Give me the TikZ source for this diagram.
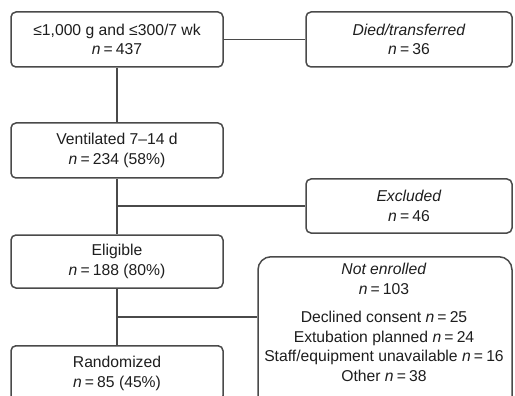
\documentclass[tikz,border=0pt]{standalone}
\usepackage{fontspec}
\setmainfont{Liberation Sans}
\definecolor{linec}{HTML}{4A4A4A}
\definecolor{textc}{HTML}{1E1E1E}
\newcommand{\nn}[1]{\textit{n}\hspace{0.2em}=\hspace{0.2em}#1}
\begin{document}
\begin{tikzpicture}[x=1pt,y=-1pt,
  every node/.style={font=\fontsize{15.7pt}{19.5pt}\selectfont, text=textc},
  flowbox/.style={draw=linec, line width=1.5pt, rounded corners=5pt, align=center,
    minimum height=55pt, inner sep=0pt},
  leftbox/.style={flowbox, minimum width=212pt},
  rightbox/.style={flowbox, minimum width=206pt},
  conn/.style={draw=linec, line width=1.5pt}]
\clip (0,0) rectangle (515,396);
\fill[white] (0,0) rectangle (515,396);

\node[leftbox] (b1) at (117,39.5) {≤1,000 g and ≤300/7 wk\\\nn{437}};
\node[rightbox] (died) at (409,39.5) {\textit{Died/transferred}\\\nn{36}};
\node[leftbox] (b2) at (117,150.5) {Ventilated 7–14 d\\\nn{234 (58\%)}};
\node[rightbox, minimum height=54pt] (excl) at (409,206) {\textit{Excluded}\\\nn{46}};
\node[leftbox, minimum height=53pt] (elig) at (117,261.5) {Eligible\\\nn{188 (80\%)}};
\node[leftbox, anchor=north] (rand) at (117,345) {Randomized\\\nn{85 (45\%)}};
\node[flowbox, rounded corners=13pt, minimum width=254pt, minimum height=170pt, anchor=north] (ne) at (385,256) {};
\node[anchor=north, align=center, inner sep=0pt] (netext) at (384,263)
  {\textit{Not enrolled}\\\nn{103}\\[9pt]
   Declined consent \nn{25}\\
   Extubation planned \nn{24}\\
   Staff/equipment unavailable \nn{16}\\
   Other \nn{38}};

\coordinate (j1) at (b1.south |- excl.west);
\coordinate (j2) at (b1.south |- 0,317);

\draw[conn] (b1.east) -- (died.west);
\draw[conn] (b1.south) -- (b2.north);
\draw[conn] (b2.south) -- (elig.north);
\draw[conn] (j1) -- (excl.west);
\draw[conn] (elig.south) -- (rand.north);
\draw[conn] (j2) -- (j2 -| ne.west);
\end{tikzpicture}
\end{document}
